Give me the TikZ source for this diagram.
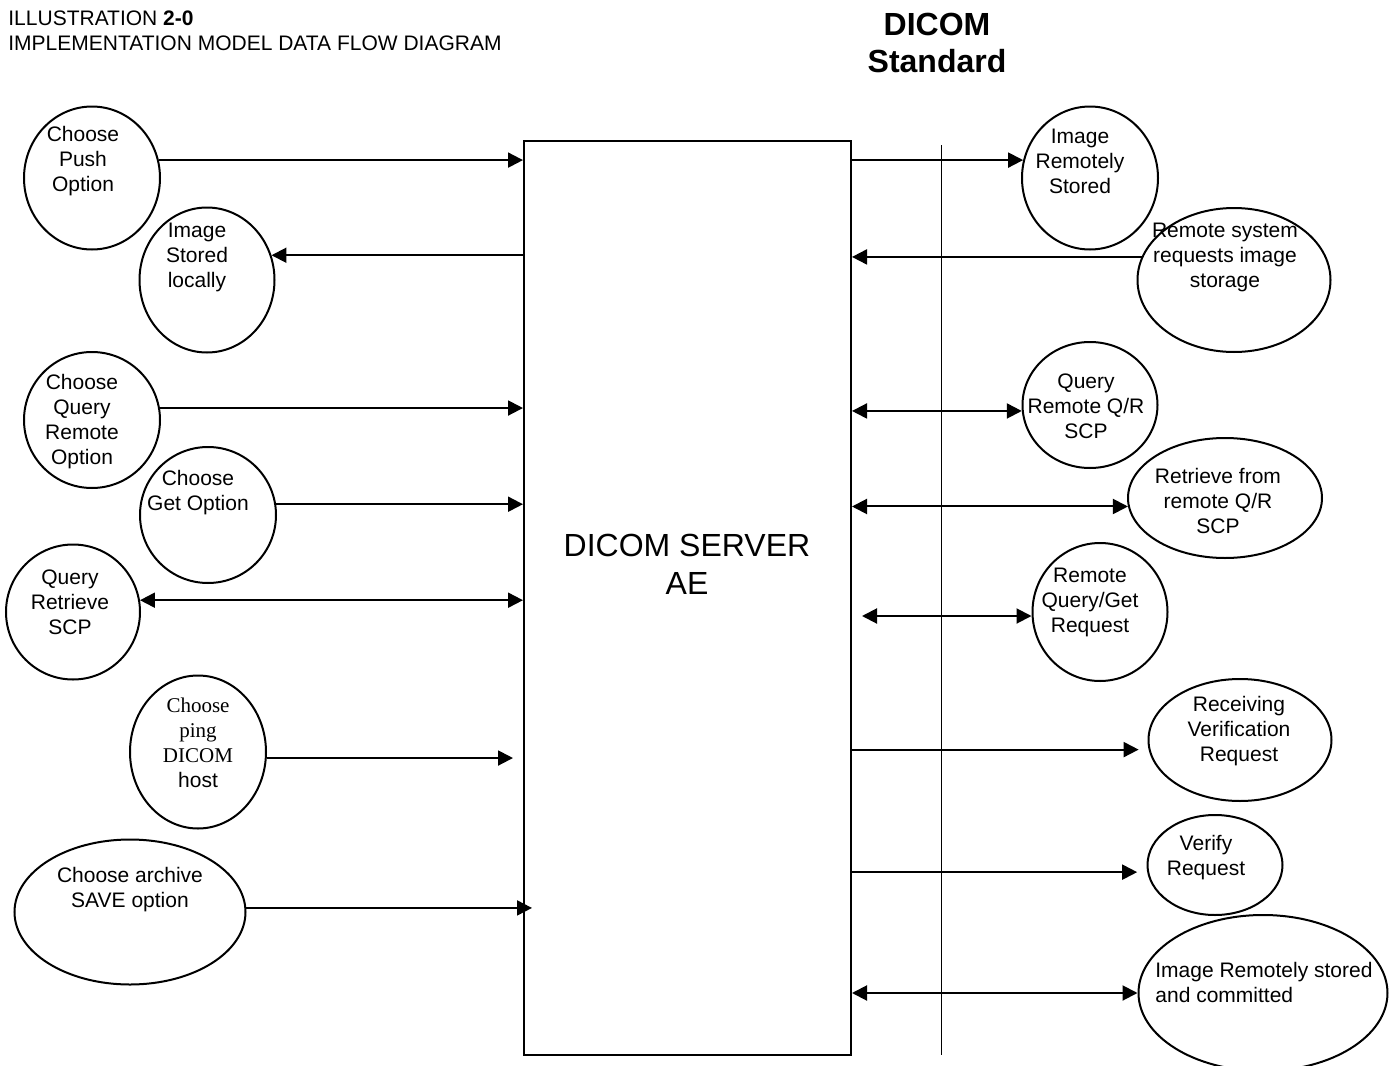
\documentclass[tikz,border=0pt]{standalone}
\usepackage{fontspec}
\setmainfont{Liberation Sans}
\newfontfamily\timesfont{Liberation Serif}
\usetikzlibrary{arrows.meta, shapes.geometric, calc}

\tikzset{
  proc/.style={draw, ellipse, line width=1pt, inner sep=0pt},
  lbl/.style={inner sep=0pt, align=center, font=\fontsize{10.5}{12.5}\selectfont},
  flow/.style={line width=1pt}
}

\begin{document}
\begin{tikzpicture}[x=0.5pt, y=-0.5pt, >={Triangle[length=7.5pt,width=7.5pt]}]
\useasboundingbox (0,0) rectangle (1389,1066);
% header
\node[lbl, anchor=west] (ill) at (8,18) {ILLUSTRATION \textbf{2-0}};
\node[lbl, anchor=west] (ttl) at (8,43) {IMPLEMENTATION MODEL DATA FLOW DIAGRAM};
\node[lbl, font=\bfseries\fontsize{16}{18.5}\selectfont] (std) at (937,43) {DICOM\\Standard};

% server and boundary
\node[draw, line width=1pt, minimum width=163.5pt, minimum height=457pt, inner sep=0pt] (server) at (687.5,598) {};
\node[lbl, font=\fontsize{16}{19}\selectfont] (srvtxt) at (687,564) {DICOM SERVER\\AE};
\draw[line width=0.5pt] (941,145) -- (941,1055);

% local side
\node[proc, minimum width=68pt, minimum height=71.5pt] (push) at (92,178) {};
\node[lbl] at (83,161) {Choose\\Push\\Option};
\node[proc, minimum width=67.5pt, minimum height=72.5pt] (local) at (207,280) {};
\node[lbl] at (197,257) {Image\\Stored\\locally};
\node[proc, minimum width=68pt, minimum height=68pt] (qro) at (92,420) {};
\node[lbl] at (82,422) {Choose\\Query\\Remote\\Option};
\node[proc, minimum width=68pt, minimum height=68pt] (get) at (208,515) {};
\node[lbl] at (198,493) {Choose\\Get Option};
\node[proc, minimum width=67pt, minimum height=67.5pt] (qrscp) at (73,612) {};
\node[lbl] at (70,602) {Query\\Retrieve\\SCP};
\node[proc, minimum width=68pt, minimum height=76.5pt] (ping) at (198,752) {};
\node[lbl] at (198,743) {{\timesfont Choose}\\{\timesfont ping}\\{\timesfont DICOM}\\host};
\node[proc, minimum width=115.5pt, minimum height=72.5pt] (archive) at (130,912) {};
\node[lbl] at (130,890) {Choose archive\\SAVE option};

% remote side
\node[proc, minimum width=68pt, minimum height=71.5pt] (remst) at (1090,178) {};
\node[lbl] at (1080,161) {Image\\Remotely\\Stored};
\node[proc, minimum width=96.5pt, minimum height=72pt] (remsys) at (1234,280) {};
\node[lbl] at (1225,257) {Remote system\\requests image\\storage};
\node[proc, minimum width=67.5pt, minimum height=63pt] (qrq) at (1090,405) {};
\node[lbl] at (1086,406) {Query\\Remote Q/R\\SCP};
\node[proc, minimum width=97pt, minimum height=60pt] (retr) at (1225,498) {};
\node[lbl] at (1218,501) {Retrieve from\\remote Q/R\\SCP};
\node[proc, minimum width=67.5pt, minimum height=69pt] (rqg) at (1100,612) {};
\node[lbl] at (1090,602) {Remote\\Query/Get\\Request};
\node[proc, minimum width=91.5pt, minimum height=61pt] (recv) at (1240,740) {};
\node[lbl] at (1239,731) {Receiving\\Verification\\Request};
\node[proc, minimum width=67.5pt, minimum height=50pt] (verify) at (1215,865) {};
\node[lbl] at (1206,858) {Verify\\Request};
\node[proc, minimum width=124.5pt, minimum height=78pt] (commit) at (1263,993) {};
\node[lbl, align=left, anchor=west] at (1155,982) {Image Remotely stored\\and committed};

% flows, local side
\draw[flow,->] (push.15) -- (push.15 -| server.west);
\draw[flow,<-] (local.21) -- (local.21 -| server.west);
\draw[flow,->] (qro.10) -- (qro.10 -| server.west);
\draw[flow,->] (get.9) -- (get.9 -| server.west);
\draw[flow,<->] (qrscp.10) -- (qrscp.10 -| server.west);
\draw[flow,->] (ping.-5) -- ([xshift=-5pt]ping.-5 -| server.west);
\draw[flow,->] (archive.2) -- ([xshift=4.5pt]archive.2 -| server.west);

% flows, remote side
\draw[flow,->] (remst.165 -| server.east) -- (remst.165);
\draw[flow,<-] (remsys.166 -| server.east) -- (remsys.166);
\draw[flow,<->] (qrq.185 -| server.east) -- (qrq.185);
\draw[flow,<->] (retr.185 -| server.east) -- (retr.185);
\coordinate (qgend) at (862,616);
\draw[flow,<->] (qgend) -- (qgend -| rqg.west);
\draw[flow,->,shorten >=5pt] (recv.186 -| server.east) -- (recv.186);
\draw[flow,->,shorten >=5pt] (verify.186 -| server.east) -- (verify.186);
\draw[flow,<->] (commit.west -| server.east) -- (commit.west);
\end{tikzpicture}
\end{document}
